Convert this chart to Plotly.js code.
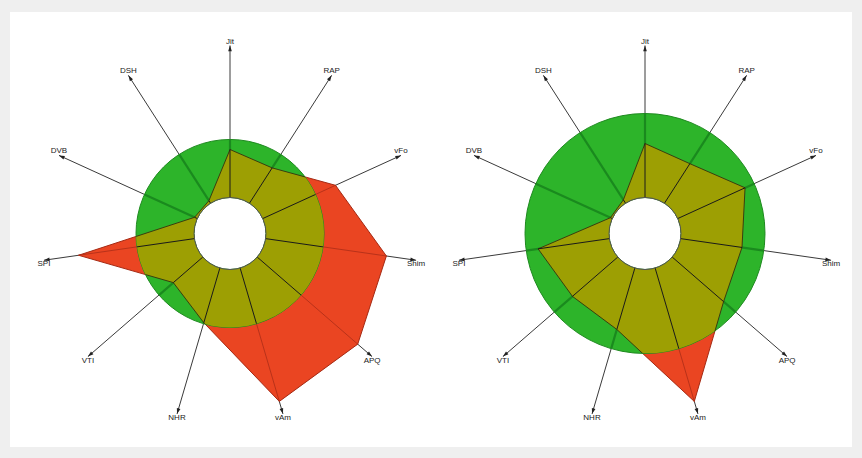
<!DOCTYPE html>
<html><head><meta charset="utf-8">
<script src="https://cdn.plot.ly/plotly-3.0.1.min.js"></script>
<style>html,body{margin:0;padding:0;background:#efefef;} #chart{width:862px;height:458px;}</style>
</head><body><div id="chart"></div>
<script>
// ---- data ----
const categories = ['Jit','RAP','vFo','Shim','APQ','vAm','NHR','VTI','SPI','DVB','DSH'];
const leftValues  = [4.8, 4.2, 8.0, 12.2, 13.3, 13.9, 5.7, 3.9, 11.7, 0.3, 0.3];
const rightValues = [5.4, 4.7, 7.4, 6.2, 6.8, 13.9, 6.4, 6.0, 7.2, 0.2, 0.4];
const normalRadius = [5.8, 8.4];   // green "normal" ring: left, right
const axisMax = 15.2;

// ---- layout helpers (positions / styles) ----
const W = 862, H = 458, HOLE = 36, RA = 188;
const centers = [[230, 233.5], [645, 233.5]];
const RED = '#ea4522', GREEN = '#2db42a', OLIVE = '#9d9f03';

function dom(cx, cy, R) {
  return {x: [(cx - R) / W, (cx + R) / W], y: [(H - cy - R) / H, (H - cy + R) / H]};
}
const closeLoop = a => a.concat([a[0]]);
function spokes(vals) {
  const r = [], th = [];
  vals.forEach((v, i) => { r.push(0, v, null); th.push(categories[i], categories[i], null); });
  return {r, th};
}
const n = categories.length;
const arrowAngles = categories.map((c, i) => i * 360 / n);
const labelPos = arrowAngles.map(a => (a < 90 || a > 270) ? 'top center' : 'bottom center');

const angBase = {type: 'category', categoryorder: 'array', categoryarray: categories,
  direction: 'clockwise', rotation: 90, showticklabels: false, ticks: ''};

const data = [];
const layout = {
  width: W, height: H, margin: {l: 0, r: 0, t: 0, b: 0, pad: 0},
  paper_bgcolor: '#efefef', showlegend: false, hovermode: false,
  font: {family: 'Liberation Sans, Arial, sans-serif', size: 8, color: '#222'},
  shapes: [{type: 'rect', xref: 'paper', yref: 'paper', x0: 10 / W, x1: 852 / W,
    y0: (H - 447) / H, y1: (H - 12) / H, fillcolor: '#ffffff', line: {width: 0}, layer: 'below'}]
};

[leftValues, rightValues].forEach((vals, k) => {
  const [cx, cy] = centers[k];
  const g = normalRadius[k];
  const idA = k === 0 ? 'polar' : 'polar4';
  const idB = 'polar' + (k === 0 ? 2 : 5);
  const idE = 'polar' + (k === 0 ? 3 : 6);
  const RB = HOLE + g * (RA - HOLE) / axisMax;

  layout[idA] = {domain: dom(cx, cy, RA), hole: HOLE / RA, bgcolor: 'rgba(0,0,0,0)',
    radialaxis: {range: [0, axisMax], visible: false, showgrid: false},
    angularaxis: Object.assign({}, angBase, {showgrid: true, gridcolor: '#3a3a3a', gridwidth: 1, showline: false})};
  layout[idB] = {domain: dom(cx, cy, RB), hole: HOLE / RB, bgcolor: GREEN,
    radialaxis: {range: [0, g], visible: false, showgrid: false},
    angularaxis: Object.assign({}, angBase, {showgrid: true, gridcolor: '#1a8a1e', gridwidth: 2.2,
      showline: true, linecolor: '#1f8a20', linewidth: 1, layer: 'below traces'})};
  layout[idE] = {domain: dom(cx, cy, HOLE), hole: 0, bgcolor: 'rgba(0,0,0,0)',
    radialaxis: {range: [0, 1], visible: false, showgrid: false},
    angularaxis: {showgrid: false, showticklabels: false, ticks: '', showline: true, linecolor: '#555', linewidth: 1}};

  const sp = spokes(vals);
  // A: measured polygon (red)
  data.push({type: 'scatterpolar', subplot: idA, r: closeLoop(vals), theta: closeLoop(categories),
    mode: 'lines', fill: 'toself', fillcolor: RED, line: {color: '#a52a14', width: 1}, hoverinfo: 'skip'});
  data.push({type: 'scatterpolar', subplot: idA, r: sp.r, theta: sp.th, mode: 'lines',
    line: {color: '#b8321a', width: 1}, hoverinfo: 'skip'});
  data.push({type: 'scatterpolar', subplot: idA, r: categories.map(() => axisMax), theta: categories,
    mode: 'markers', cliponaxis: false,
    marker: {symbol: 'arrow', size: 6, angle: arrowAngles, color: '#222'}, hoverinfo: 'skip'});
  data.push({type: 'scatterpolar', subplot: idA, r: categories.map(() => axisMax), theta: categories,
    mode: 'text', text: categories, textposition: labelPos, cliponaxis: false,
    textfont: {family: 'Liberation Sans, Arial, sans-serif', size: 8, color: '#222'}, hoverinfo: 'skip'});
  // B: overlap with the normal ring (olive), clipped by the ring subplot
  data.push({type: 'scatterpolar', subplot: idB, r: closeLoop(vals), theta: closeLoop(categories),
    mode: 'lines', fill: 'toself', fillcolor: OLIVE, line: {color: '#3a3e10', width: 1}, hoverinfo: 'skip'});
  data.push({type: 'scatterpolar', subplot: idB, r: sp.r, theta: sp.th, mode: 'lines',
    line: {color: '#1a1a1a', width: 1}, hoverinfo: 'skip'});
  // E: hole outline
  data.push({type: 'scatterpolar', subplot: idE, r: [0], theta: [0], mode: 'markers',
    marker: {opacity: 0}, hoverinfo: 'skip'});
});

Plotly.newPlot('chart', data, layout, {staticPlot: true, displayModeBar: false});
</script>
</body></html>
